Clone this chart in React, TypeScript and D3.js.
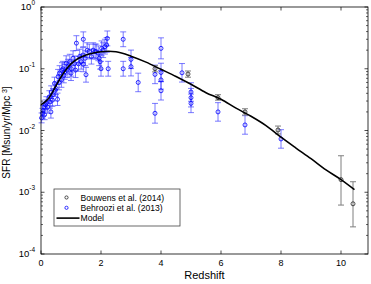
import { useEffect, useRef } from 'react';
import * as d3 from 'd3';

// Behroozi et al. (2013) compilation: [redshift, SFR, error (dex)]
const behroozi: [number, number, number][] = [
  [0.02, 0.016, 0.08], [0.05, 0.019, 0.08], [0.07, 0.021, 0.08], [0.1, 0.024, 0.08],
  [0.12, 0.018, 0.08], [0.15, 0.026, 0.08], [0.18, 0.028, 0.1], [0.22, 0.024, 0.1],
  [0.28, 0.035, 0.1], [0.3, 0.029, 0.1], [0.33, 0.02, 0.1], [0.34, 0.042, 0.1],
  [0.38, 0.031, 0.1], [0.4, 0.038, 0.1], [0.45, 0.058, 0.1], [0.48, 0.045, 0.1],
  [0.5, 0.048, 0.1], [0.55, 0.032, 0.1], [0.57, 0.074, 0.12], [0.6, 0.06, 0.12],
  [0.62, 0.085, 0.12], [0.68, 0.066, 0.12], [0.7, 0.095, 0.12], [0.73, 0.1, 0.12],
  [0.76, 0.078, 0.12], [0.79, 0.089, 0.12], [0.84, 0.123, 0.12], [0.87, 0.095, 0.12],
  [0.9, 0.108, 0.12], [0.96, 0.13, 0.12], [1.0, 0.085, 0.12], [1.01, 0.1, 0.12],
  [1.07, 0.148, 0.12], [1.12, 0.122, 0.12], [1.15, 0.095, 0.12], [1.18, 0.26, 0.12],
  [1.25, 0.12, 0.12], [1.29, 0.157, 0.12], [1.34, 0.13, 0.12], [1.4, 0.167, 0.12],
  [1.41, 0.3, 0.12], [1.41, 0.118, 0.12], [1.47, 0.148, 0.12], [1.5, 0.08, 0.12],
  [1.54, 0.2, 0.12], [1.61, 0.19, 0.12], [1.68, 0.157, 0.12], [1.74, 0.2, 0.12],
  [1.8, 0.19, 0.12], [1.84, 0.19, 0.12], [1.91, 0.178, 0.12], [1.94, 0.148, 0.12],
  [1.97, 0.13, 0.12], [2.0, 0.1, 0.12], [2.02, 0.214, 0.12], [2.07, 0.2, 0.12],
  [2.13, 0.228, 0.12], [2.19, 0.243, 0.12], [2.21, 0.31, 0.12], [2.24, 0.1, 0.12],
  [2.74, 0.3, 0.12], [2.74, 0.1, 0.12], [3.0, 0.142, 0.15], [3.0, 0.108, 0.15],
  [3.24, 0.06, 0.15], [3.8, 0.081, 0.15], [3.8, 0.019, 0.16], [4.0, 0.214, 0.17],
  [4.0, 0.087, 0.15], [4.0, 0.066, 0.15], [4.0, 0.044, 0.15], [4.7, 0.086, 0.15],
  [5.0, 0.042, 0.15], [5.0, 0.034, 0.15], [5.0, 0.0275, 0.15], [5.9, 0.02, 0.15],
  [6.8, 0.0123, 0.15], [8.0, 0.0073, 0.15],
];

// Bouwens et al. (2014): [redshift, SFR, lower, upper]
const bouwens: [number, number, number, number][] = [
  [3.8, 0.1, 0.089, 0.112],
  [4.9, 0.082, 0.073, 0.092],
  [5.9, 0.034, 0.031, 0.038],
  [6.8, 0.02, 0.0178, 0.0225],
  [7.9, 0.0102, 0.0088, 0.0118],
  [10.0, 0.0016, 0.00062, 0.0039],
  [10.4, 0.00065, 0.000275, 0.00148],
];

// model curve: [redshift, SFR]
const model: [number, number][] = [
  [0, 0.026], [0.25, 0.033], [0.5, 0.053], [0.75, 0.085], [1.0, 0.12],
  [1.25, 0.148], [1.5, 0.167], [1.75, 0.18], [2.0, 0.188], [2.25, 0.192],
  [2.5, 0.188], [3.0, 0.16], [3.5, 0.128], [4.0, 0.098], [4.5, 0.075],
  [5.0, 0.056], [5.5, 0.041], [6.0, 0.032], [6.5, 0.023], [7.0, 0.017],
  [7.5, 0.012], [8.0, 0.0078], [8.5, 0.0052], [9.0, 0.0035], [9.5, 0.0023],
  [10.0, 0.0016], [10.45, 0.0011],
];

const xTicks = [0, 2, 4, 6, 8, 10];
const yExps = [0, -1, -2, -3, -4];
const legendItems = ['Bouwens et al. (2014)', 'Behroozi et al. (2013)', 'Model'];

const FONT = "'Liberation Sans', Arial, Helvetica, sans-serif";

export default function App() {
  const svgRef = useRef<SVGSVGElement>(null);

  useEffect(() => {
    const svg = d3.select(svgRef.current);
    svg.selectAll('*').remove();

    const W = 371, H = 284;
    const m = { top: 7, right: 3, bottom: 30, left: 41 };
    const iW = W - m.left - m.right;
    const iH = H - m.top - m.bottom;

    const g = svg.append('g').attr('transform', `translate(${m.left},${m.top})`);

    const x = d3.scaleLinear().domain([0, 10.9]).range([0, iW]);
    const y = d3.scaleLog().domain([1e-4, 1]).range([iH, 0]);

    g.append('rect').attr('width', iW).attr('height', iH).attr('fill', '#fff');

    // error bars: Behroozi
    const capW = 3;
    behroozi.forEach(([z, v, e]) => {
      const cx = x(z);
      const lo = y(v * Math.pow(10, -e));
      const hi = y(v * Math.pow(10, e));
      const eb = g.append('g').attr('stroke', '#3a3aff').attr('stroke-opacity', 0.75).attr('stroke-width', 0.9);
      eb.append('line').attr('x1', cx).attr('x2', cx).attr('y1', lo).attr('y2', hi);
      eb.append('line').attr('x1', cx - capW).attr('x2', cx + capW).attr('y1', lo).attr('y2', lo);
      eb.append('line').attr('x1', cx - capW).attr('x2', cx + capW).attr('y1', hi).attr('y2', hi);
    });

    // error bars: Bouwens
    bouwens.forEach(([z, , lo, hi]) => {
      const cx = x(z);
      const eb = g.append('g').attr('stroke', '#7f7f7f').attr('stroke-width', 1);
      eb.append('line').attr('x1', cx).attr('x2', cx).attr('y1', y(lo)).attr('y2', y(hi));
      eb.append('line').attr('x1', cx - capW).attr('x2', cx + capW).attr('y1', y(lo)).attr('y2', y(lo));
      eb.append('line').attr('x1', cx - capW).attr('x2', cx + capW).attr('y1', y(hi)).attr('y2', y(hi));
    });

    g.selectAll('circle.bh').data(behroozi).enter().append('circle')
      .attr('class', 'bh')
      .attr('cx', d => x(d[0])).attr('cy', d => y(d[1])).attr('r', 2)
      .attr('fill', 'none').attr('stroke', '#0000ff').attr('stroke-width', 0.8);

    g.selectAll('circle.bw').data(bouwens).enter().append('circle')
      .attr('class', 'bw')
      .attr('cx', d => x(d[0])).attr('cy', d => y(d[1])).attr('r', 2)
      .attr('fill', 'none').attr('stroke', '#222').attr('stroke-width', 0.8);

    // model
    const line = d3.line<[number, number]>()
      .x(d => x(d[0])).y(d => y(d[1]))
      .curve(d3.curveMonotoneX);
    g.append('path').datum(model).attr('d', line)
      .attr('fill', 'none').attr('stroke', '#000').attr('stroke-width', 1.6);

    // frame
    g.append('rect').attr('width', iW).attr('height', iH)
      .attr('fill', 'none').attr('stroke', '#000').attr('stroke-width', 0.8);

    // x ticks (inside, top and bottom)
    xTicks.forEach(t => {
      const px = x(t);
      g.append('line').attr('x1', px).attr('x2', px).attr('y1', iH).attr('y2', iH - 3.5)
        .attr('stroke', '#000').attr('stroke-width', 0.7);
      g.append('line').attr('x1', px).attr('x2', px).attr('y1', 0).attr('y2', 3.5)
        .attr('stroke', '#000').attr('stroke-width', 0.7);
      g.append('text').attr('x', px).attr('y', iH + 12)
        .attr('text-anchor', 'middle').attr('font-size', 9).attr('font-family', FONT)
        .text(String(t));
    });

    // y ticks, major + minor on both sides
    yExps.forEach(e => {
      const py = y(Math.pow(10, e));
      [[0, 3.5], [iW, iW - 3.5]].forEach(([a, b]) => {
        g.append('line').attr('x1', a).attr('x2', b).attr('y1', py).attr('y2', py)
          .attr('stroke', '#000').attr('stroke-width', 0.7);
      });
      const lbl = g.append('text').attr('x', -6).attr('y', py + 3)
        .attr('text-anchor', 'end').attr('font-family', FONT).attr('font-size', 9.5);
      lbl.append('tspan').text('10');
      lbl.append('tspan').attr('dy', -5).attr('font-size', 6.5).text(String(e));
      if (e > -4) {
        for (let k = 2; k <= 9; k++) {
          const my = y(k * Math.pow(10, e - 1));
          [[0, 2], [iW, iW - 2]].forEach(([a, b]) => {
            g.append('line').attr('x1', a).attr('x2', b).attr('y1', my).attr('y2', my)
              .attr('stroke', '#000').attr('stroke-width', 0.6);
          });
        }
      }
    });

    // axis labels
    g.append('text').attr('x', iW / 2).attr('y', iH + 25)
      .attr('text-anchor', 'middle').attr('font-size', 11).attr('font-family', FONT)
      .text('Redshift');
    const yl = g.append('text')
      .attr('transform', `translate(${-31},${iH / 2 + 2}) rotate(-90)`)
      .attr('text-anchor', 'middle').attr('font-size', 10).attr('font-family', FONT);
    yl.append('tspan').text('SFR [Msun/yr/Mpc ');
    yl.append('tspan').attr('dy', -3.5).attr('font-size', 7).text('3');
    yl.append('tspan').attr('dy', 3.5).text(']');

    // legend
    const lg = g.append('g').attr('transform', `translate(${54 - m.left},${189 - m.top})`);
    lg.append('rect').attr('width', 126).attr('height', 37)
      .attr('fill', '#fff').attr('stroke', '#444').attr('stroke-width', 0.8);
    legendItems.forEach((name, i) => {
      const ry = 8.5 + i * 10.3;
      if (i < 2) {
        lg.append('circle').attr('cx', 12.5).attr('cy', ry).attr('r', 1.6)
          .attr('fill', 'none').attr('stroke', i === 0 ? '#222' : '#0000ff').attr('stroke-width', 0.8);
      } else {
        lg.append('line').attr('x1', 2.5).attr('x2', 25.5).attr('y1', ry).attr('y2', ry)
          .attr('stroke', '#000').attr('stroke-width', 1.6);
      }
      lg.append('text').attr('x', 26.5).attr('y', ry + 3)
        .attr('font-size', 8.6).attr('font-family', FONT).text(name);
    });
  }, []);

  return (
    <svg
      ref={svgRef}
      width={371}
      height={284}
      style={{ position: 'absolute', left: 0, top: 0, background: '#fff' }}
    />
  );
}
